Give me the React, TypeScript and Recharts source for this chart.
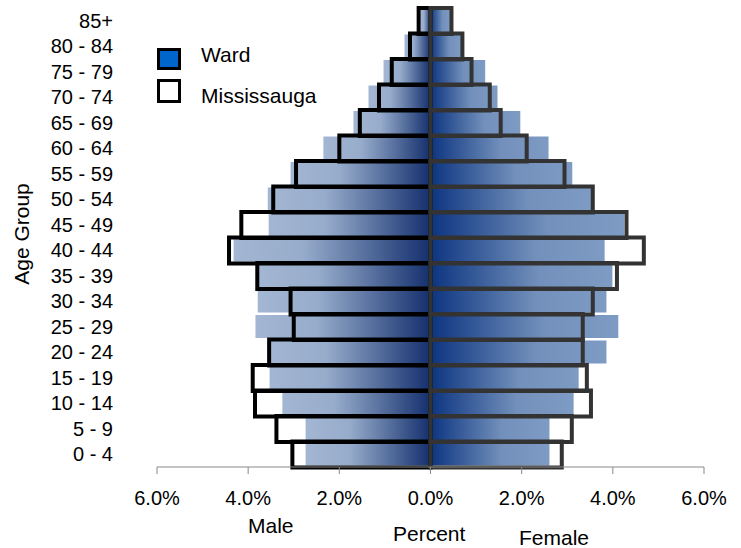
import { BarChart, Bar, XAxis, YAxis } from "recharts";

const AGES = ["0 - 4", "5 - 9", "10 - 14", "15 - 19", "20 - 24", "25 - 29", "30 - 34", "35 - 39", "40 - 44", "45 - 49", "50 - 54", "55 - 59", "60 - 64", "65 - 69", "70 - 74", "75 - 79", "80 - 84", "85+"];

// percent of population, youngest group first
const WARD_MALE = [2.74, 2.74, 3.25, 3.53, 3.53, 3.84, 3.79, 3.77, 4.32, 3.55, 3.57, 3.07, 2.35, 1.69, 1.36, 1.03, 0.57, 0.22];
const WARD_FEMALE = [2.61, 2.61, 3.14, 3.25, 3.86, 4.12, 3.86, 3.99, 3.82, 4.25, 3.55, 3.11, 2.59, 1.97, 1.47, 1.2, 0.68, 0.44];
const MISS_MALE = [3.03, 3.38, 3.85, 3.9, 3.54, 3.0, 3.07, 3.8, 4.42, 4.15, 3.45, 2.95, 2.0, 1.55, 1.13, 0.85, 0.45, 0.26];
const MISS_FEMALE = [2.88, 3.1, 3.52, 3.43, 3.34, 3.34, 3.56, 4.09, 4.68, 4.3, 3.56, 2.94, 2.11, 1.54, 1.3, 0.9, 0.7, 0.46];

const X_TICKS = [-6, -4, -2, 0, 2, 4, 6];

const data = AGES.map((age, i) => ({
  age,
  wardMale: -WARD_MALE[i],
  wardFemale: WARD_FEMALE[i],
  missMale: -MISS_MALE[i],
  missFemale: MISS_FEMALE[i],
}));

const FONT = "'Liberation Sans', Arial, sans-serif";

const text = (left: number, top: number, s: string, size = 20) => (
  <div style={{ position: "absolute", left, top, fontSize: size, lineHeight: `${size}px`, whiteSpace: "nowrap" }}>{s}</div>
);

export default function App() {
  return (
    <div style={{ position: "absolute", left: 0, top: 0, width: 741, height: 548, fontFamily: FONT, color: "#000", background: "#fff" }}>
      <BarChart
        width={741}
        height={548}
        data={data}
        layout="vertical"
        stackOffset="sign"
        barCategoryGap={0}
        barGap={0}
        margin={{ top: 8, right: 37, bottom: 0, left: 0 }}
        style={{ fontFamily: FONT }}
      >
        <defs>
          <linearGradient id="maleGrad" x1="0" y1="0" x2="1" y2="0">
            <stop offset="0" stopColor="#a3b6d3" />
            <stop offset="0.35" stopColor="#97accb" />
            <stop offset="1" stopColor="#14306e" />
          </linearGradient>
          <linearGradient id="femaleGrad" x1="0" y1="0" x2="1" y2="0">
            <stop offset="0" stopColor="#0c3480" />
            <stop offset="0.6" stopColor="#7290bb" />
            <stop offset="1" stopColor="#7e9bc4" />
          </linearGradient>
        </defs>
        <XAxis
          type="number"
          domain={[-6, 6]}
          ticks={X_TICKS}
          tickFormatter={(v: number) => `${Math.abs(v).toFixed(1)}%`}
          height={81}
          stroke="#888"
          tickSize={7}
          tickMargin={17}
          tick={{ fill: "#000", fontSize: 20 }}
        />
        <YAxis yAxisId="m" type="category" dataKey="age" reversed hide width={0} />
        <YAxis
          yAxisId="w"
          type="category"
          dataKey="age"
          reversed
          width={157}
          axisLine={false}
          tickLine={false}
          tickSize={0}
          tickMargin={44}
          interval={0}
          tick={{ fill: "#000", fontSize: 20 }}
        />
        <Bar yAxisId="w" dataKey="wardMale" stackId="w" barSize={23} fill="url(#maleGrad)" isAnimationActive={false} />
        <Bar yAxisId="w" dataKey="wardFemale" stackId="w" barSize={23} fill="url(#femaleGrad)" isAnimationActive={false} />
        <Bar yAxisId="m" dataKey="missMale" stackId="m" fill="none" stroke="#000" strokeWidth={4} isAnimationActive={false} />
        <Bar yAxisId="m" dataKey="missFemale" stackId="m" fill="none" stroke="#333" strokeWidth={4} isAnimationActive={false} />
      </BarChart>

      <div style={{ position: "absolute", left: 157, top: 48, width: 18, height: 16, border: "3px solid #000", background: "#0066cc" }} />
      <div style={{ position: "absolute", left: 157, top: 79, width: 18, height: 18, border: "3px solid #000", background: "#fff" }} />
      {text(201, 44, "Ward", 21)}
      {text(201, 85, "Mississauga", 21)}

      <div
        style={{
          position: "absolute",
          left: 21,
          top: 234,
          fontSize: 21,
          lineHeight: "21px",
          whiteSpace: "nowrap",
          transform: "translate(-50%, -50%) rotate(-90deg)",
        }}
      >
        Age Group
      </div>
      {text(248, 515, "Male", 21)}
      {text(393, 523, "Percent", 21)}
      {text(519, 527, "Female", 21)}
    </div>
  );
}
